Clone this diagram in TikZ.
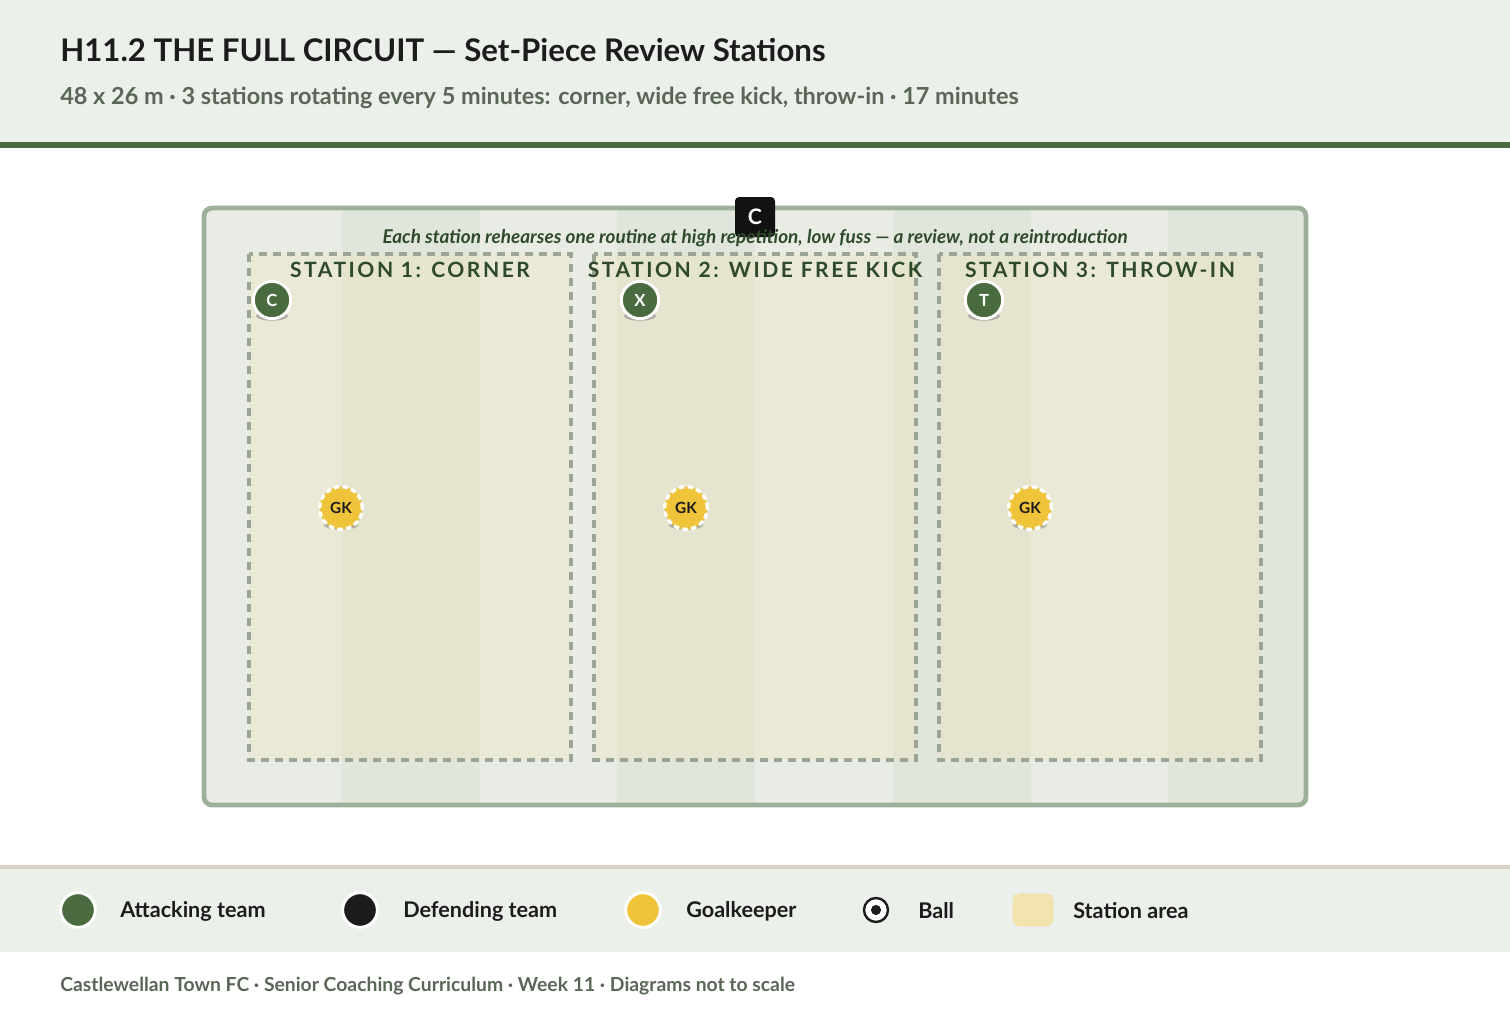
\documentclass[tikz,border=0pt]{standalone}
\usepackage{fontspec}
\setmainfont{Lato}
\newfontfamily\spacedfont[LetterSpace=12]{Lato}
\usetikzlibrary{positioning,calc,shapes}

\definecolor{bandbg}{HTML}{ECF0EA}
\definecolor{darkgreen}{HTML}{4A6B40}
\definecolor{inkgreen}{HTML}{2E4A2A}
\definecolor{greytext}{HTML}{5A6657}
\definecolor{pitchline}{HTML}{9DB09A}
\definecolor{pitchlight}{HTML}{E8ECE5}
\definecolor{pitchdark}{HTML}{E1E6DD}
\definecolor{stationfill}{HTML}{F0DFA0}
\definecolor{dashgrey}{HTML}{9AA598}
\definecolor{gkyellow}{HTML}{F0C43A}
\definecolor{darkink}{HTML}{1C1C1C}
\definecolor{sepline}{HTML}{D8D2C8}

\begin{document}
\begin{tikzpicture}[x=0.75pt, y=-0.75pt,
    attacker/.style={circle, fill=darkgreen, draw=white, line width=2.2pt, minimum size=28pt, inner sep=0pt, text=white, font=\bfseries\fontsize{12.5}{12.5}\selectfont},
    keeper/.style={circle, fill=gkyellow, draw=white, line width=2.5pt, dash pattern=on 4pt off 2.6pt, minimum size=32pt, inner sep=0pt},
    shadow/.style={fill=black!50, fill opacity=0.55},
    stationbox/.style={fill=stationfill, fill opacity=0.22, draw=dashgrey, draw opacity=1, line width=3pt, dash pattern=on 6pt off 4.5pt},
    stationtitle/.style={text=inkgreen, font=\spacedfont\bfseries\fontsize{15.8}{15.8}\selectfont},
    legendtext/.style={anchor=west, inner sep=0pt, text=darkink, font=\bfseries\fontsize{16.2}{16.2}\selectfont},
    legenddot/.style={circle, draw=white, line width=2.2pt, minimum size=26pt, inner sep=0pt}]
    \useasboundingbox (0,0) rectangle (1510,1010);

    % header band
    \fill[bandbg] (0,0) rectangle (1510,143);
    \fill[darkgreen] (0,142) rectangle (1510,148);
    \node (title) [anchor=west, inner sep=0pt, text=darkink, font=\bfseries\fontsize{23.4}{23.4}\selectfont] at (60,50) {H11.2 THE FULL CIRCUIT — Set-Piece Review Stations};
    \node (subtitle) [anchor=west, inner sep=0pt, text=greytext, font=\bfseries\fontsize{17.6}{17.6}\selectfont] at (60,98) {48 x 26 m · 3 stations rotating every 5 minutes: corner, wide free kick, throw-in · 17 minutes};

    % pitch with stripes
    \fill[pitchlight, rounded corners=6pt] (204,208) rectangle (1306,805);
    \begin{scope}
        \clip[rounded corners=6pt] (204,208) rectangle (1306,805);
        \foreach \i in {1,3,5,7}
            \fill[pitchdark] ({204+137.75*\i},208) rectangle ({204+137.75*(\i+1)},805);
    \end{scope}
    \draw[pitchline, line width=3.6pt, rounded corners=6pt] (204,208) rectangle (1306,805);

    % stations
    \foreach \x/\name/\label in {249/one/{STATION 1: CORNER}, 594/two/{STATION 2: WIDE FREE KICK}, 939/three/{STATION 3: THROW-IN}} {
        \draw[stationbox] (\x,254) rectangle ({\x+322},760);
        \node (st\name) [stationtitle] at ({\x+161},270) {\label};
    }

    % coach and note
    \node (coach) [fill=black!93, rounded corners=3pt, minimum size=30pt, inner sep=0pt, text=white, font=\bfseries\fontsize{16}{16}\selectfont] at (755,217) {C};
    \node (note) [text=inkgreen, font=\itshape\bfseries\fontsize{14.2}{14.2}\selectfont] at (755,238) {Each station rehearses one routine at high repetition, low fuss — a review, not a reintroduction};

    % takers
    \foreach \x/\name/\tag in {272/corner/C, 640/freekick/X, 984/throw/T} {
        \fill[shadow] (\x,316) ellipse (12pt and 3.5pt);
        \node (\name) [attacker] at (\x,300) {\tag};
    }

    % goalkeepers
    \foreach \x/\name in {341/gkone, 686/gktwo, 1030/gkthree} {
        \fill[shadow] (\x,525) ellipse (13pt and 3.5pt);
        \node (\name) [keeper] at (\x,508) {};
        \node [text=darkink, font=\bfseries\fontsize{11.5}{11.5}\selectfont] at (\name) {GK};
    }

    % legend
    \fill[sepline] (0,865) rectangle (1510,869);
    \fill[bandbg] (0,869) rectangle (1510,952);
    \node (legatt) [legenddot, fill=darkgreen] at (78,910) {};
    \node (legatttext) [legendtext] at (120,911) {Attacking team};
    \node (legdef) [legenddot, fill=darkink] at (360,910) {};
    \node (legdeftext) [legendtext] at (403,911) {Defending team};
    \node (leggk) [legenddot, fill=gkyellow] at (643,910) {};
    \node (leggktext) [legendtext] at (686,911) {Goalkeeper};
    \node (legball) [circle, draw=darkink, fill=white, line width=1.8pt, minimum size=18pt, inner sep=0pt] at (876,910) {};
    \fill[darkink] (legball) circle (3.8pt);
    \node (legballtext) [legendtext] at (918,911) {Ball};
    \node (legarea) [fill=stationfill!85, draw=stationfill!90!orange, dashed, rounded corners=4pt, minimum width=30pt, minimum height=24pt] at (1033,910) {};
    \node (legareatext) [legendtext] at (1073,911) {Station area};

    % footer
    \node (footer) [anchor=west, inner sep=0pt, text=greytext, font=\bfseries\fontsize{14.5}{14.5}\selectfont] at (60,986) {Castlewellan Town FC · Senior Coaching Curriculum · Week 11 · Diagrams not to scale};
\end{tikzpicture}
\end{document}
